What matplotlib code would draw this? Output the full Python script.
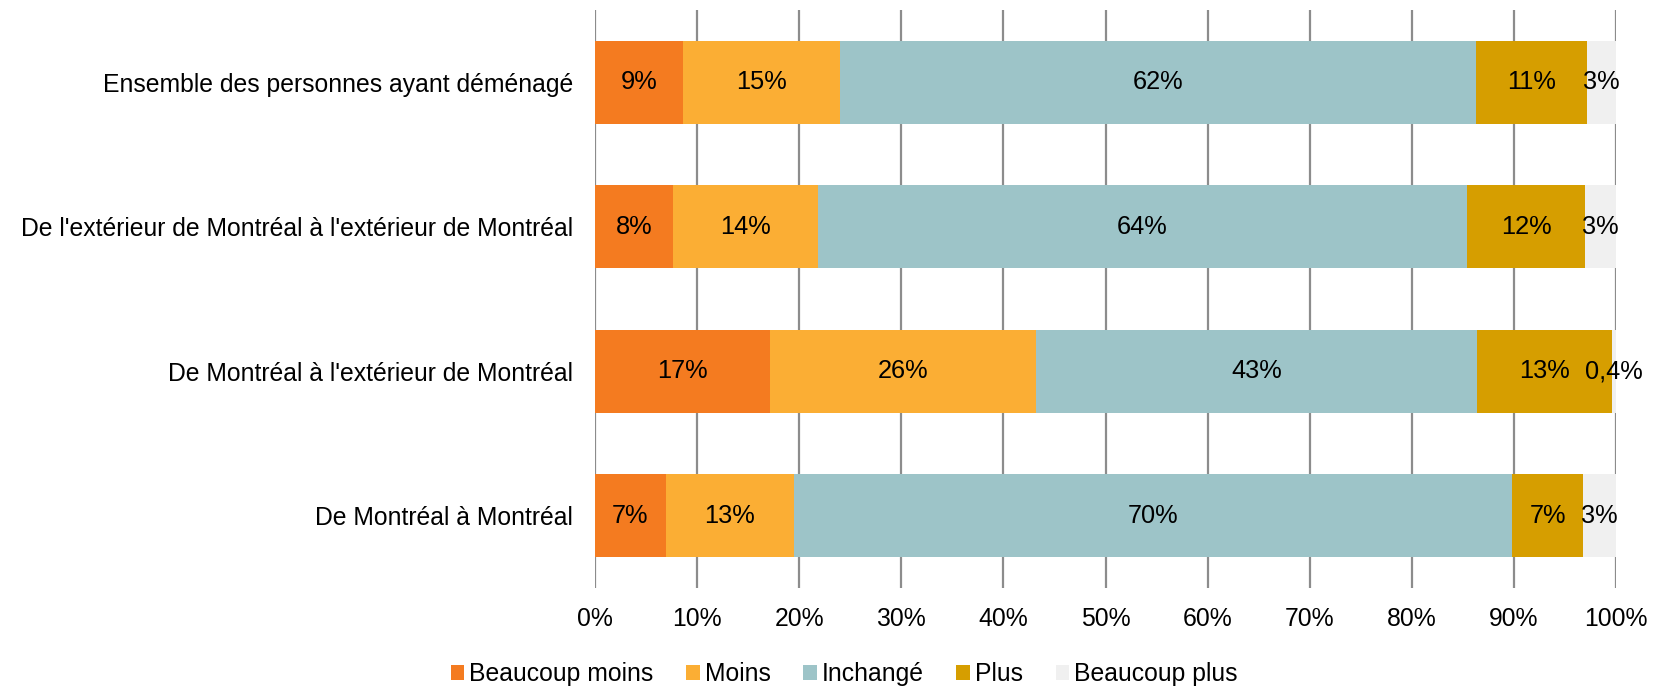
import matplotlib
matplotlib.use("Agg")
import matplotlib.pyplot as plt
import numpy as np

plt.rcParams['font.family'] = ['Liberation Sans', 'DejaVu Sans']

categories = [
    "Ensemble des personnes ayant déménagé",
    "De l'extérieur de Montréal à l'extérieur de Montréal",
    "De Montréal à l'extérieur de Montréal",
    "De Montréal à Montréal",
]
series_names = ["Beaucoup moins", "Moins", "Inchangé", "Plus", "Beaucoup plus"]
beaucoup_moins = [8.6, 7.6, 17.1, 6.9]
moins = [15.4, 14.2, 26.1, 12.6]
inchange = [62.3, 63.6, 43.2, 70.3]
plus = [10.9, 11.6, 13.2, 7.0]
beaucoup_plus = [2.8, 3.0, 0.4, 3.2]
tick_values = [0, 10, 20, 30, 40, 50, 60, 70, 80, 90, 100]
tick_labels = [f"{t}%" for t in tick_values]

colors = ["#F47B20", "#FBAE34", "#9DC4C8", "#D69E00", "#F0F0F0"]
series = [beaucoup_moins, moins, inchange, plus, beaucoup_plus]

fig = plt.figure(figsize=(16.65, 6.91), dpi=100)
ax = fig.add_axes([0.3574, 0.149, 0.9706 - 0.3574, 0.9855 - 0.149])

y = np.arange(len(categories))
left = np.zeros(len(categories))
fs = 17.8
fs_lab = 18.3
for name, vals, col in zip(series_names, series, colors):
    vals = np.array(vals)
    ax.barh(y, vals, left=left, height=0.575, color=col, label=name,
            edgecolor='none', zorder=3)
    for yi, l, v in zip(y, left, vals):
        if v < 1:
            txt = f"{v:.1f}".replace('.', ',') + '%'
        else:
            txt = f"{v:.0f}%"
        ax.text(l + v / 2, yi, txt, ha='center', va='center', fontsize=fs_lab,
                color='black', zorder=4)
    left = left + vals

ax.set_xlim(0, 100)
ax.set_ylim(3.5, -0.5)
ax.set_yticks(y)
ax.set_yticklabels(categories, fontsize=fs)
ax.set_xticks(tick_values)
ax.set_xticklabels(tick_labels, fontsize=fs)
ax.tick_params(axis='y', length=0, pad=16)
ax.tick_params(axis='x', length=0, pad=14)
for s in ax.spines.values():
    s.set_visible(False)
ax.xaxis.grid(True, color='#8C8C8C', linewidth=1.6, zorder=0)
ax.set_axisbelow(True)

fig.legend(loc='center', bbox_to_anchor=(0.507, 0.024), ncol=5, frameon=False,
           fontsize=fs, handlelength=0.55, handleheight=0.55, handletextpad=0.2,
           columnspacing=1.32, borderaxespad=0)

fig.savefig("out.png", dpi=100)
